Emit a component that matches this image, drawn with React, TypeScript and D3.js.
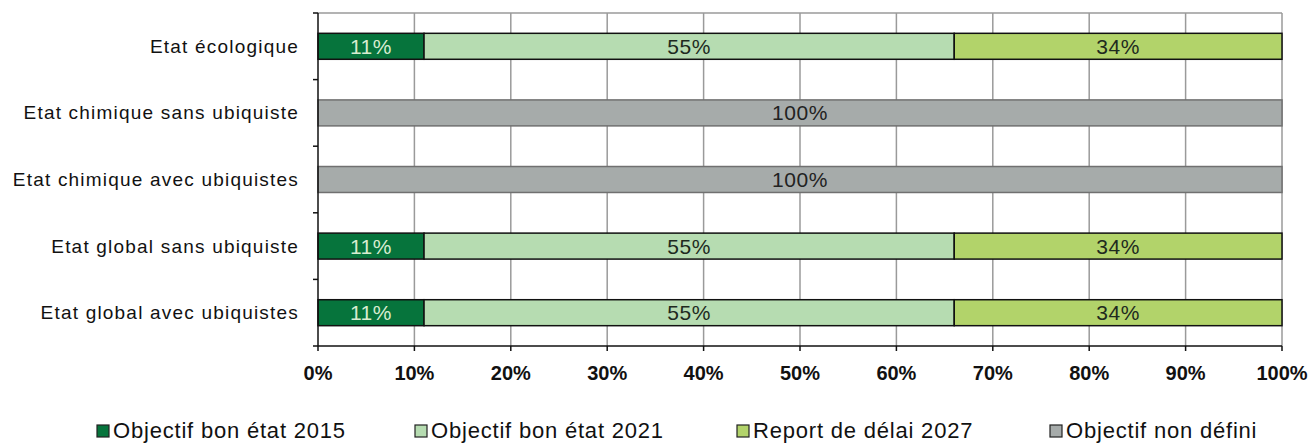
import * as d3 from 'd3';
import React, { useRef, useEffect } from 'react';

const categories = [
  'Etat écologique',
  'Etat chimique sans ubiquiste',
  'Etat chimique avec ubiquistes',
  'Etat global sans ubiquiste',
  'Etat global avec ubiquistes',
];

const seriesNames = [
  'Objectif bon état 2015',
  'Objectif bon état 2021',
  'Report de délai 2027',
  'Objectif non défini',
];

const bon2015 = [11, 0, 0, 11, 11];
const bon2021 = [55, 0, 0, 55, 55];
const report2027 = [34, 0, 0, 34, 34];
const nonDefini = [0, 100, 100, 0, 0];

const xTicks = [0, 10, 20, 30, 40, 50, 60, 70, 80, 90, 100];

const fills = ['#06743c', '#b6dcb1', '#b2d36a', '#a6abaa'];
const strokes = ['#111', '#111', '#111', '#707070'];
const labelColors = ['#d8ecd0', '#1e2a1e', '#1e2a1e', '#222'];
const legendX = [97, 415, 737, 1050];

function App() {
  const ref = useRef<SVGSVGElement>(null);

  useEffect(() => {
    const width = 1310;
    const height = 443;
    const svg = d3.select(ref.current);
    svg.selectAll('*').remove();
    svg.attr('width', width).attr('height', height);

    const left = 318;
    const right = 1282;
    const top = 13;
    const bottom = 346;

    const x = d3.scaleLinear().domain([0, 100]).range([left, right]);
    const y = d3.scaleBand().domain(categories).range([top, bottom]);

    const font = 'Liberation Sans, Arial, sans-serif';

    // grid
    svg
      .append('line')
      .attr('x1', left)
      .attr('x2', right)
      .attr('y1', top)
      .attr('y2', top)
      .attr('stroke', '#9a9a9a')
      .attr('stroke-width', 1.5);
    svg
      .selectAll('.grid')
      .data(xTicks.slice(1))
      .enter()
      .append('line')
      .attr('x1', (d) => x(d))
      .attr('x2', (d) => x(d))
      .attr('y1', top)
      .attr('y2', bottom)
      .attr('stroke', '#9a9a9a')
      .attr('stroke-width', 1.5);

    // stacked bars
    const table = categories.map((c, i) => ({
      cat: c,
      s0: bon2015[i],
      s1: bon2021[i],
      s2: report2027[i],
      s3: nonDefini[i],
    }));
    const stack = d3.stack<any>().keys(['s0', 's1', 's2', 's3'])(table);
    const bh = y.bandwidth() * 0.39;

    stack.forEach((layer, k) => {
      const g = svg.append('g');
      layer.forEach((seg) => {
        const v = seg[1] - seg[0];
        if (v <= 0) return;
        const cy = (y(seg.data.cat) as number) + y.bandwidth() / 2;
        g.append('rect')
          .attr('x', x(seg[0]))
          .attr('y', cy - bh / 2)
          .attr('width', x(seg[1]) - x(seg[0]))
          .attr('height', bh)
          .attr('fill', fills[k])
          .attr('stroke', strokes[k])
          .attr('stroke-width', 1.5);
        g.append('text')
          .attr('x', (x(seg[0]) + x(seg[1])) / 2)
          .attr('y', cy + 7.5)
          .attr('text-anchor', 'middle')
          .attr('font-family', font)
          .attr('font-size', 21)
          .attr('letter-spacing', 0.6)
          .attr('fill', labelColors[k])
          .text(`${v}%`);
      });
    });

    // y axis
    const boundaries = d3.range(categories.length + 1).map((i) => top + i * y.step());
    svg
      .append('line')
      .attr('x1', left)
      .attr('x2', left)
      .attr('y1', top)
      .attr('y2', bottom)
      .attr('stroke', '#111')
      .attr('stroke-width', 1.5);
    svg
      .selectAll('.ytick')
      .data(boundaries)
      .enter()
      .append('line')
      .attr('x1', left - 5)
      .attr('x2', left)
      .attr('y1', (d) => d)
      .attr('y2', (d) => d)
      .attr('stroke', '#111')
      .attr('stroke-width', 1.5);
    svg
      .selectAll('.ylab')
      .data(categories)
      .enter()
      .append('text')
      .attr('x', 299)
      .attr('y', (d) => (y(d) as number) + y.bandwidth() / 2 + 6.5)
      .attr('text-anchor', 'end')
      .attr('font-family', font)
      .attr('font-size', 19)
      .attr('letter-spacing', 1.2)
      .attr('fill', '#111')
      .text((d) => d);

    // x axis
    svg
      .append('line')
      .attr('x1', left)
      .attr('x2', right)
      .attr('y1', bottom)
      .attr('y2', bottom)
      .attr('stroke', '#111')
      .attr('stroke-width', 1.5);
    svg
      .selectAll('.xtick')
      .data(xTicks)
      .enter()
      .append('line')
      .attr('x1', (d) => x(d))
      .attr('x2', (d) => x(d))
      .attr('y1', bottom)
      .attr('y2', bottom + 5)
      .attr('stroke', '#111')
      .attr('stroke-width', 1.5);
    svg
      .selectAll('.xlab')
      .data(xTicks)
      .enter()
      .append('text')
      .attr('x', (d) => x(d))
      .attr('y', 380)
      .attr('text-anchor', 'middle')
      .attr('font-family', font)
      .attr('font-weight', 'bold')
      .attr('font-size', 20)
      .attr('fill', '#111')
      .text((d) => `${d}%`);

    // legend
    const lg = svg
      .selectAll('.leg')
      .data(seriesNames)
      .enter()
      .append('g')
      .attr('transform', (d, i) => `translate(${legendX[i]}, 425)`);
    lg.append('rect')
      .attr('width', 12)
      .attr('height', 12)
      .attr('fill', (d, i) => fills[i])
      .attr('stroke', '#222')
      .attr('stroke-width', 1.2);
    lg.append('text')
      .attr('x', 16)
      .attr('y', 13)
      .attr('font-family', font)
      .attr('font-size', 22)
      .attr('letter-spacing', 0.8)
      .attr('fill', '#111')
      .text((d) => d);
  }, []);

  return (
    <div style={{ position: 'absolute', left: 0, top: 0 }}>
      <svg ref={ref} style={{ display: 'block' }}></svg>
    </div>
  );
}

export default App;
